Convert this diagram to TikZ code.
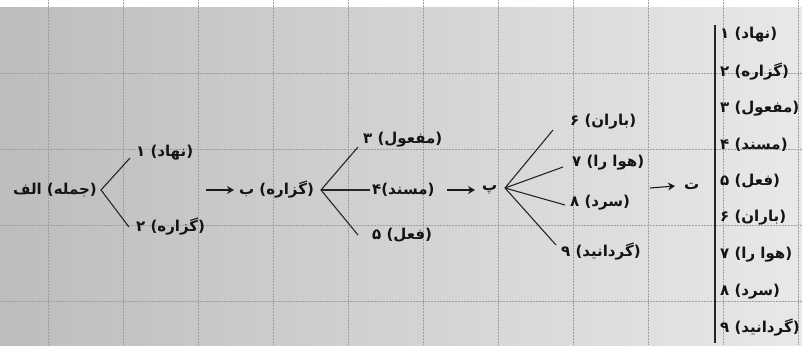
\documentclass[tikz,border=0pt]{standalone}
\usepackage{fontspec}
\usetikzlibrary{arrows.meta}
\TeXXeTstate=1
\newfontfamily\arabicfont[Script=Arabic]{DejaVu Sans}
\newcommand{\faS}{\arabicfont\fontsize{15}{18}\selectfont\bfseries}
\newcommand{\faText}[1]{\beginR #1\endR}
\tikzset{
  lbl/.style={inner sep=0pt, text=black!92, font=\faS},
  br/.style={line width=1.1pt, draw=black!85},
  arr/.style={-{Stealth[length=7pt,width=8pt]}, line width=1.1pt, draw=black!90},
  gridl/.style={densely dotted, line width=0.5pt, draw=black!38}
}
\begin{document}
\begin{tikzpicture}[x=1pt,y=-1pt]
\useasboundingbox (0,0) rectangle (802,348);
% paper
\fill[white] (0,0) rectangle (802,348);
\shade[left color=black!26, right color=black!9] (0,7) rectangle (802,345);
\foreach \x in {48,123,...,798} \draw[gridl] (\x,0) -- (\x,345);
\foreach \y in {73,149,225,301} \draw[gridl] (0,\y) -- (802,\y);

% left tree
\node[lbl, anchor=east] (alef) at (97,190) {\faText{(جمله) الف}};
\coordinate (f1) at (101,190);
\coordinate (e1) at (130,158);
\coordinate (e2) at (129,227);
\node[lbl, anchor=west] (n1) at (136,153) {\faText{(نهاد) ۱}};
\node[lbl, anchor=west] (n2) at (136,227) {\faText{(گزاره) ۲}};
\draw[br] (e1) -- (f1) -- (e2);

% arrow 1
\coordinate (a1) at (206,190);
\node[lbl, anchor=west] (be) at (239,190) {\faText{(گزاره) ب}};
\draw[arr] (a1) -- ([xshift=-5pt]be.west);

% middle tree
\coordinate (f2) at (321,190);
\coordinate (e3) at (358,147);
\coordinate (e4) at (370,190);
\coordinate (e5) at (358,235);
\node[lbl, anchor=west] (n3) at (363,140) {\faText{(مفعول) ۳}};
\node[lbl, anchor=west] (n4) at (372,190) {\faText{(مسند)۴}};
\node[lbl, anchor=west] (n5) at (372,235) {\faText{(فعل) ۵}};
\draw[br] (e3) -- (f2) -- (e5);
\draw[br] (f2) -- (e4);

% arrow 2
\coordinate (a2) at (447,190);
\node[lbl, anchor=west] (pe) at (482,190) {\faText{پ}};
\draw[arr] (a2) -- ([xshift=-7pt]pe.west);

% right tree
\coordinate (f3) at (505,188);
\coordinate (e6) at (553,130);
\coordinate (e7) at (563,167);
\coordinate (e8) at (565,205);
\coordinate (e9) at (556,245);
\node[lbl, anchor=west] (n6) at (570,122) {\faText{(باران) ۶}};
\node[lbl, anchor=west] (n7) at (572,163) {\faText{(هوا را) ۷}};
\node[lbl, anchor=west] (n8) at (570,203) {\faText{(سرد) ۸}};
\node[lbl, anchor=west] (n9) at (561,252) {\faText{(گردانید) ۹}};
\foreach \e in {e6,e7,e8,e9} \draw[br] (f3) -- (\e);

% arrow 3
\coordinate (a3) at (650,188);
\node[lbl, anchor=west] (te) at (684,186) {\faText{ت}};
\draw[arr] (a3) -- ([xshift=-9pt]te.west);

% list
\coordinate (b1) at (715,25);
\coordinate (b2) at (715,343);
\draw[line width=1.2pt, black!85] (b1) -- (b2);
\node[lbl, anchor=west] (r1) at (720,35) {\faText{(نهاد) ۱}};
\node[lbl, anchor=west] (r2) at (720,71.6) {\faText{(گزاره) ۲}};
\node[lbl, anchor=west] (r3) at (720,108.2) {\faText{(مفعول) ۳}};
\node[lbl, anchor=west] (r4) at (720,144.8) {\faText{(مسند) ۴}};
\node[lbl, anchor=west] (r5) at (720,181.4) {\faText{(فعل) ۵}};
\node[lbl, anchor=west] (r6) at (720,218) {\faText{(باران) ۶}};
\node[lbl, anchor=west] (r7) at (720,254.6) {\faText{(هوا را) ۷}};
\node[lbl, anchor=west] (r8) at (720,291.2) {\faText{(سرد) ۸}};
\node[lbl, anchor=west] (r9) at (720,327.8) {\faText{(گردانید) ۹}};
\end{tikzpicture}
\end{document}
